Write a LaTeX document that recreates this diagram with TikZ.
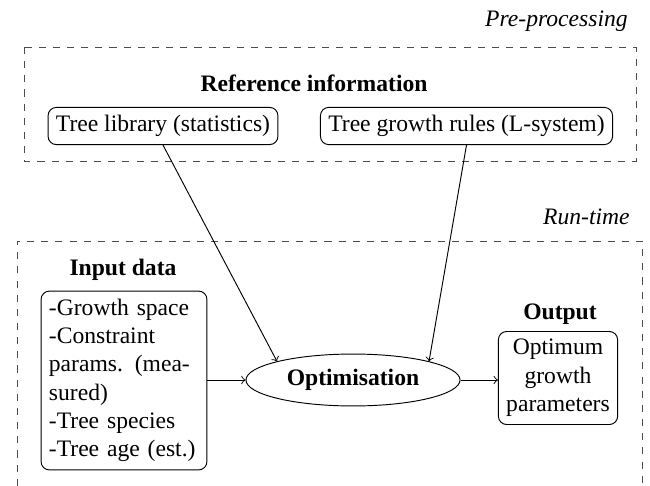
\documentclass[tikz,border=0pt]{standalone}
\usepackage{fontspec}
\setmainfont{Liberation Serif}
\usepackage{tikz}
\usetikzlibrary{shapes, arrows, positioning}

\begin{document}
\begin{tikzpicture}[x=0.4237pt, y=-0.4237pt,
   frame/.style={draw, dashed, gray!60!black},
   rbox/.style={draw, rectangle, rounded corners=3.5pt, inner sep=3.33pt},
   heading/.style={font=\bfseries, anchor=base},
   stage/.style={font=\itshape, anchor=base east}]
\useasboundingbox (0,0) rectangle (650,485);

% Pre-processing
\node[stage] (pre) at (636, 27) {Pre-processing};
\draw[frame] (24, 47) rectangle (636, 161);
\node[heading] (ref) at (314, 91) {Reference information};
\node[rbox] (lib) at (163, 126) {Tree library (statistics)};
\node[rbox] (rules) at (466.5, 126) {Tree growth rules (L-system)};

% Run-time
\node[stage] (run) at (638, 224) {Run-time};
\draw[frame] (17, 500) -- (17, 241) -- (642, 241) -- (642, 500);
\node[heading] (inhead) at (123, 275) {Input data};
\node[rbox, text width=63.6pt, align=left] (input) at (124, 380.5)
   {-Growth space\\-Constraint\\\mbox{params.\hspace{5pt}(mea-}\\sured)\\-Tree species\\-Tree age (est.)};
\node[draw, ellipse, minimum width=90.7pt, minimum height=22pt, inner sep=0pt, font=\bfseries] (opt) at (353, 380) {Optimisation};
\node[heading] (outhead) at (560, 319) {Output};
\node[rbox, align=center] (out) at (558, 378) {Optimum\\growth\\parameters};

% Connections
\draw[->] (lib.south) -- (opt.north west);
\draw[->] (rules.south) -- (opt.north east);
\draw[->] (input.east |- opt.west) -- (opt.west);
\draw[->] (opt.east) -- (opt.east -| out.west);
\end{tikzpicture}
\end{document}
